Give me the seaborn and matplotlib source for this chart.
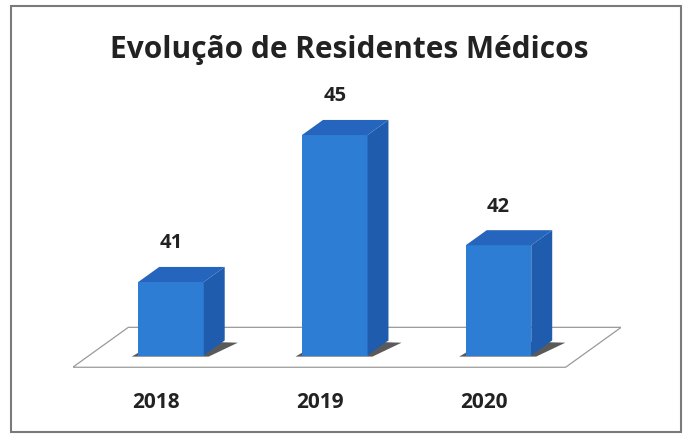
import matplotlib
matplotlib.use("Agg")
import matplotlib.pyplot as plt
import matplotlib.transforms as mtransforms
from matplotlib.patches import Polygon, Rectangle
import pandas as pd
import seaborn as sns

# data
years = ["2018", "2019", "2020"]
residents = [41, 45, 42]
axis_min = 39
title = "Evolução de Residentes Médicos"

# colours / style
FRONT = "#2e7dd4"
SIDE = "#1f5cae"
TOP = "#2565bd"
TEXT = "#222222"
DEPTH_X, DEPTH_Y = 0.128, 0.41   # fake 3D depth, in data units

sns.set_style("white")
plt.rcParams["font.family"] = ["Open Sans", "DejaVu Sans"]

fig = plt.figure(figsize=(6.87, 4.36), dpi=100)
ax = fig.add_axes([0.1059, 0.1172, 0.7985, 0.7417])

df = pd.DataFrame({"ano": years, "residentes": residents})
sns.barplot(data=df, x="ano", y="residentes", color=FRONT, saturation=1,
            width=0.40, ax=ax, zorder=3, linewidth=0)

ax.set_xlim(-0.6, 2.75)
ax.set_ylim(38.2, 47)

# floor (white parallelogram under the bars)
n = len(years)
fy = axis_min - 0.32
fx0, fx1 = -0.6, n - 1 + 0.41
floor = [(fx0, fy), (fx1, fy),
         (fx1 + 2.65 * DEPTH_X, fy + 2.65 * DEPTH_Y),
         (fx0 + 2.65 * DEPTH_X, fy + 2.65 * DEPTH_Y)]
ax.add_patch(Polygon(floor, closed=True, fc="white", ec="#9a9a9a", lw=0.9, zorder=1))

# turn the flat bars into boxes
for p, val in zip(ax.patches[:], residents):
    x0 = p.get_x()
    x1 = x0 + p.get_width()
    p.set_y(axis_min)
    p.set_height(val - axis_min)
    b = axis_min
    shadow = [(x0 - 0.04, b - 0.03), (x1 + 0.03, b - 0.03),
              (x1 + DEPTH_X + 0.08, b + DEPTH_Y * 0.85), (x0 + DEPTH_X, b + DEPTH_Y)]
    ax.add_patch(Polygon(shadow, closed=True, fc="#5a5a5a", ec="none", zorder=2))
    side = [(x1, b), (x1 + DEPTH_X, b + DEPTH_Y),
            (x1 + DEPTH_X, val + DEPTH_Y), (x1, val)]
    ax.add_patch(Polygon(side, closed=True, fc=SIDE, ec="none", zorder=3))
    top = [(x0, val), (x1, val), (x1 + DEPTH_X, val + DEPTH_Y), (x0 + DEPTH_X, val + DEPTH_Y)]
    ax.add_patch(Polygon(top, closed=True, fc=TOP, ec="none", zorder=3))
    ax.annotate(str(val), xy=(x0 + p.get_width() / 2, val + DEPTH_Y),
                xytext=(0, 17), textcoords="offset points",
                ha="center", va="center", fontsize=14.5, fontweight="bold", color=TEXT)

# axes cosmetics
sns.despine(ax=ax, left=True, bottom=True)
ax.set_yticks([])
ax.set_xlabel("")
ax.set_ylabel("")
ax.tick_params(axis="x", length=0, pad=5, labelsize=15, labelcolor=TEXT)
shift = mtransforms.ScaledTranslation(-0.15, 0, fig.dpi_scale_trans)
for lbl in ax.get_xticklabels():
    lbl.set_fontweight("bold")
    lbl.set_transform(lbl.get_transform() + shift)

fig.text(0.508, 0.885, title, ha="center", va="center",
         fontsize=21.5, fontweight="bold", color=TEXT)

# chart frame
fig.add_artist(Rectangle((11 / 687, 4 / 436), 670 / 687, 426 / 436,
                         transform=fig.transFigure, fill=False,
                         ec="#7a7a7a", lw=1.5))

fig.savefig("out.png", dpi=100)
